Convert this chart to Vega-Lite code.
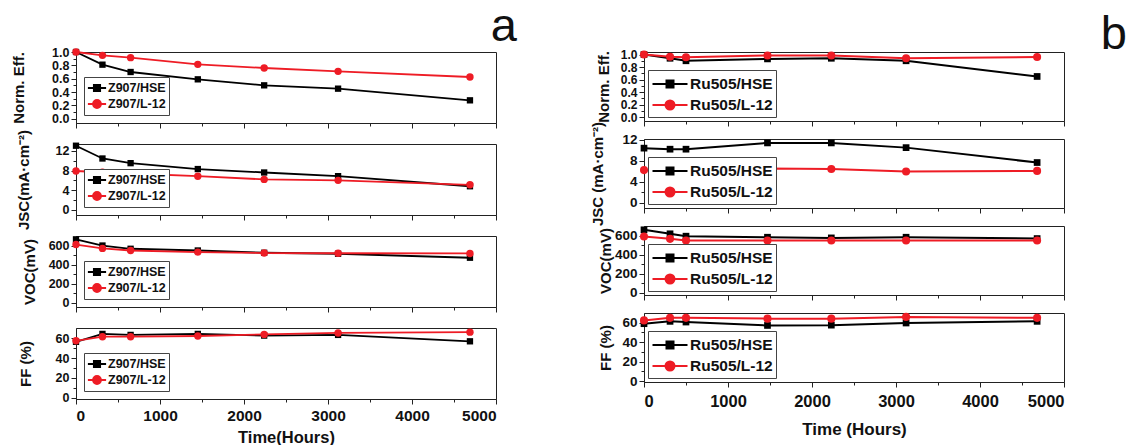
{
  "$schema": "https://vega.github.io/schema/vega-lite/v6.json",
  "background": "white",
  "padding": {"left": 10, "top": 2, "right": 0, "bottom": 0},
  "config": {
    "font": "Liberation Sans",
    "view": {"stroke": "#222", "strokeWidth": 1},
    "axis": {"grid": false, "labelFontWeight": "bold", "titleFontWeight": "bold", "labelColor": "#111", "titleColor": "#111", "tickColor": "#222", "domainColor": "#222", "labelPadding": 2},
    "axisY": {"labelOverlap": false},
    "legend": {"strokeColor": "#444", "fillColor": "white", "padding": 3, "labelFontWeight": "bold", "labelColor": "#111", "rowPadding": 1, "orient": "bottom-left"}
  },
  "datasets": {
    "a": [
      {"t": 0, "series": "Z907/HSE", "eff": 1.0, "jsc": 13.05, "voc": 665, "ff": 56.5},
      {"t": 315, "series": "Z907/HSE", "eff": 0.81, "jsc": 10.45, "voc": 600, "ff": 64.5},
      {"t": 650, "series": "Z907/HSE", "eff": 0.70, "jsc": 9.5, "voc": 566, "ff": 63.5},
      {"t": 1450, "series": "Z907/HSE", "eff": 0.59, "jsc": 8.3, "voc": 548, "ff": 64.5},
      {"t": 2240, "series": "Z907/HSE", "eff": 0.50, "jsc": 7.6, "voc": 524, "ff": 62.8},
      {"t": 3120, "series": "Z907/HSE", "eff": 0.45, "jsc": 6.85, "voc": 514, "ff": 63.5},
      {"t": 4690, "series": "Z907/HSE", "eff": 0.275, "jsc": 4.8, "voc": 472, "ff": 57},
      {"t": 0, "series": "Z907/L-12", "eff": 1.0, "jsc": 7.9, "voc": 610, "ff": 57.5},
      {"t": 315, "series": "Z907/L-12", "eff": 0.95, "jsc": 7.65, "voc": 570, "ff": 61.7},
      {"t": 650, "series": "Z907/L-12", "eff": 0.915, "jsc": 7.4, "voc": 548, "ff": 61.7},
      {"t": 1450, "series": "Z907/L-12", "eff": 0.815, "jsc": 6.85, "voc": 531, "ff": 62.4},
      {"t": 2240, "series": "Z907/L-12", "eff": 0.76, "jsc": 6.2, "voc": 521, "ff": 64.0},
      {"t": 3120, "series": "Z907/L-12", "eff": 0.71, "jsc": 6.0, "voc": 519, "ff": 65.5},
      {"t": 4690, "series": "Z907/L-12", "eff": 0.625, "jsc": 5.1, "voc": 517, "ff": 66.3}
    ],
    "b": [
      {"t": 0, "series": "Ru505/HSE", "eff": 1.0, "jsc": 10.4, "voc": 660, "ff": 59},
      {"t": 310, "series": "Ru505/HSE", "eff": 0.94, "jsc": 10.2, "voc": 618, "ff": 61.4},
      {"t": 500, "series": "Ru505/HSE", "eff": 0.90, "jsc": 10.2, "voc": 593, "ff": 60.7},
      {"t": 1470, "series": "Ru505/HSE", "eff": 0.93, "jsc": 11.4, "voc": 582, "ff": 57.2},
      {"t": 2230, "series": "Ru505/HSE", "eff": 0.94, "jsc": 11.4, "voc": 575, "ff": 57.5},
      {"t": 3120, "series": "Ru505/HSE", "eff": 0.90, "jsc": 10.5, "voc": 582, "ff": 59.7},
      {"t": 4680, "series": "Ru505/HSE", "eff": 0.65, "jsc": 7.65, "voc": 568, "ff": 61.4},
      {"t": 0, "series": "Ru505/L-12", "eff": 1.0, "jsc": 6.2, "voc": 590, "ff": 62.4},
      {"t": 310, "series": "Ru505/L-12", "eff": 0.965, "jsc": 6.0, "voc": 565, "ff": 65},
      {"t": 500, "series": "Ru505/L-12", "eff": 0.955, "jsc": 6.05, "voc": 547, "ff": 65},
      {"t": 1470, "series": "Ru505/L-12", "eff": 0.985, "jsc": 6.5, "voc": 547, "ff": 64.2},
      {"t": 2230, "series": "Ru505/L-12", "eff": 0.985, "jsc": 6.4, "voc": 547, "ff": 64.2},
      {"t": 3120, "series": "Ru505/L-12", "eff": 0.94, "jsc": 5.95, "voc": 547, "ff": 66},
      {"t": 4680, "series": "Ru505/L-12", "eff": 0.96, "jsc": 6.05, "voc": 547, "ff": 65}
    ]
  },
  "resolve": {"scale": {"color": "independent"}, "legend": {"color": "independent"}},
  "spacing": 72,
  "hconcat": [
    {
      "data": {"name": "a"},
      "title": {"text": "a", "anchor": "end", "fontSize": 47, "fontWeight": "normal", "color": "#111", "offset": -5, "dx": 20},
      "bounds": "flush",
      "spacing": 21,
      "resolve": {"scale": {"color": "independent"}, "legend": {"color": "independent"}},
      "vconcat": [
        {
          "width": 420, "height": 71,
          "encoding": {
            "x": {"field": "t", "type": "quantitative", "scale": {"domain": [0, 5000], "nice": false}, "axis": {"values": [0,500,1000,1500,2000,2500,3000,3500,4000,4500,5000], "labels": false, "title": null, "tickSize": {"condition": {"test": "datum.value % 1000 === 0", "value": 5}, "value": 3}}},
            "y": {"field": "eff", "type": "quantitative", "scale": {"domain": [-0.065, 1.0], "nice": false, "zero": false}, "axis": {"values": [0,0.1,0.2,0.3,0.4,0.5,0.6,0.7,0.8,0.9,1.0], "labelExpr": "round(datum.value*10) % 2 === 0 ? format(datum.value, '.1f') : ''", "tickSize": {"condition": {"test": "round(datum.value*10) % 2 === 0", "value": 5}, "value": 3}, "labelFontSize": 12.5, "title": "Norm. Eff.", "titleFontSize": 15, "titleX": -50}},
            "color": {"field": "series", "type": "nominal", "scale": {"domain": ["Z907/HSE", "Z907/L-12"], "range": ["#000000", "#ee1c25"]}, "legend": {"title": null, "offset": 8, "labelFontSize": 12.5, "symbolSize": 196, "symbolOffset": 2, "labelOffset": 3, "encode": {"symbols": {"update": {"shape": {"signal": "indexof(datum.value, 'HSE') >= 0 ? 'M-1.3,0H1.3M-0.45,-0.45H0.45V0.45H-0.45Z' : 'M-1.3,0H1.3M0.57,0A0.57,0.57,0,1,1,-0.57,0A0.57,0.57,0,1,1,0.57,0Z'"}, "fill": {"signal": "indexof(datum.value, 'HSE') >= 0 ? '#000000' : '#ee1c25'"}, "stroke": {"signal": "indexof(datum.value, 'HSE') >= 0 ? '#000000' : '#ee1c25'"}, "strokeWidth": {"value": 1.8}, "opacity": {"value": 1}}}}}}
          },
          "layer": [
            {"mark": {"type": "line", "strokeWidth": 1.8}},
            {"transform": [{"filter": {"field": "series", "equal": "Z907/HSE"}}], "mark": {"type": "point", "shape": "square", "filled": true, "size": 40, "opacity": 1}},
            {"transform": [{"filter": {"field": "series", "equal": "Z907/L-12"}}], "mark": {"type": "point", "shape": "circle", "filled": true, "size": 55, "opacity": 1}}
          ]
        },
        {
          "width": 420, "height": 71,
          "encoding": {
            "x": {"field": "t", "type": "quantitative", "scale": {"domain": [0, 5000], "nice": false}, "axis": {"values": [0,500,1000,1500,2000,2500,3000,3500,4000,4500,5000], "labels": false, "title": null, "tickSize": {"condition": {"test": "datum.value % 1000 === 0", "value": 5}, "value": 3}}},
            "y": {"field": "jsc", "type": "quantitative", "scale": {"domain": [-1.05, 13.4], "nice": false, "zero": false}, "axis": {"values": [0,2,4,6,8,10,12], "labelExpr": "datum.value % 4 === 0 ? datum.label : ''", "tickSize": {"condition": {"test": "datum.value % 4 === 0", "value": 5}, "value": 3}, "labelFontSize": 12.5, "title": "JSC(mA·cm⁻²)", "titleFontSize": 15, "titleX": -45}},
            "color": {"field": "series", "type": "nominal", "scale": {"domain": ["Z907/HSE", "Z907/L-12"], "range": ["#000000", "#ee1c25"]}, "legend": {"title": null, "offset": 8, "labelFontSize": 12.5, "symbolSize": 196, "symbolOffset": 2, "labelOffset": 3, "encode": {"symbols": {"update": {"shape": {"signal": "indexof(datum.value, 'HSE') >= 0 ? 'M-1.3,0H1.3M-0.45,-0.45H0.45V0.45H-0.45Z' : 'M-1.3,0H1.3M0.57,0A0.57,0.57,0,1,1,-0.57,0A0.57,0.57,0,1,1,0.57,0Z'"}, "fill": {"signal": "indexof(datum.value, 'HSE') >= 0 ? '#000000' : '#ee1c25'"}, "stroke": {"signal": "indexof(datum.value, 'HSE') >= 0 ? '#000000' : '#ee1c25'"}, "strokeWidth": {"value": 1.8}, "opacity": {"value": 1}}}}}}
          },
          "layer": [
            {"mark": {"type": "line", "strokeWidth": 1.8}},
            {"transform": [{"filter": {"field": "series", "equal": "Z907/HSE"}}], "mark": {"type": "point", "shape": "square", "filled": true, "size": 40, "opacity": 1}},
            {"transform": [{"filter": {"field": "series", "equal": "Z907/L-12"}}], "mark": {"type": "point", "shape": "circle", "filled": true, "size": 55, "opacity": 1}}
          ]
        },
        {
          "width": 420, "height": 71,
          "encoding": {
            "x": {"field": "t", "type": "quantitative", "scale": {"domain": [0, 5000], "nice": false}, "axis": {"values": [0,500,1000,1500,2000,2500,3000,3500,4000,4500,5000], "labels": false, "title": null, "tickSize": {"condition": {"test": "datum.value % 1000 === 0", "value": 5}, "value": 3}}},
            "y": {"field": "voc", "type": "quantitative", "scale": {"domain": [-45, 700], "nice": false, "zero": false}, "axis": {"values": [0,100,200,300,400,500,600], "labelExpr": "datum.value % 200 === 0 ? datum.label : ''", "tickSize": {"condition": {"test": "datum.value % 200 === 0", "value": 5}, "value": 3}, "labelFontSize": 12.5, "title": "VOC(mV)", "titleFontSize": 15, "titleX": -39}},
            "color": {"field": "series", "type": "nominal", "scale": {"domain": ["Z907/HSE", "Z907/L-12"], "range": ["#000000", "#ee1c25"]}, "legend": {"title": null, "offset": 8, "labelFontSize": 12.5, "symbolSize": 196, "symbolOffset": 2, "labelOffset": 3, "encode": {"symbols": {"update": {"shape": {"signal": "indexof(datum.value, 'HSE') >= 0 ? 'M-1.3,0H1.3M-0.45,-0.45H0.45V0.45H-0.45Z' : 'M-1.3,0H1.3M0.57,0A0.57,0.57,0,1,1,-0.57,0A0.57,0.57,0,1,1,0.57,0Z'"}, "fill": {"signal": "indexof(datum.value, 'HSE') >= 0 ? '#000000' : '#ee1c25'"}, "stroke": {"signal": "indexof(datum.value, 'HSE') >= 0 ? '#000000' : '#ee1c25'"}, "strokeWidth": {"value": 1.8}, "opacity": {"value": 1}}}}}}
          },
          "layer": [
            {"mark": {"type": "line", "strokeWidth": 1.8}},
            {"transform": [{"filter": {"field": "series", "equal": "Z907/HSE"}}], "mark": {"type": "point", "shape": "square", "filled": true, "size": 40, "opacity": 1}},
            {"transform": [{"filter": {"field": "series", "equal": "Z907/L-12"}}], "mark": {"type": "point", "shape": "circle", "filled": true, "size": 55, "opacity": 1}}
          ]
        },
        {
          "width": 420, "height": 71,
          "encoding": {
            "x": {"field": "t", "type": "quantitative", "scale": {"domain": [0, 5000], "nice": false}, "axis": {"values": [0,500,1000,1500,2000,2500,3000,3500,4000,4500,5000], "labelExpr": "datum.value % 1000 === 0 ? datum.label : ''", "labelFontSize": 15.5, "labelPadding": 4, "title": "Time(Hours)", "titleFontSize": 16.5, "titlePadding": 6, "format": "d", "tickSize": {"condition": {"test": "datum.value % 1000 === 0", "value": 5}, "value": 3}}},
            "y": {"field": "ff", "type": "quantitative", "scale": {"domain": [-1.5, 70.5], "nice": false, "zero": false}, "axis": {"values": [0,10,20,30,40,50,60], "labelExpr": "datum.value % 20 === 0 ? datum.label : ''", "tickSize": {"condition": {"test": "datum.value % 20 === 0", "value": 5}, "value": 3}, "labelFontSize": 12.5, "title": "FF (%)", "titleFontSize": 15, "titleX": -43}},
            "color": {"field": "series", "type": "nominal", "scale": {"domain": ["Z907/HSE", "Z907/L-12"], "range": ["#000000", "#ee1c25"]}, "legend": {"title": null, "offset": 8, "labelFontSize": 12.5, "symbolSize": 196, "symbolOffset": 2, "labelOffset": 3, "encode": {"symbols": {"update": {"shape": {"signal": "indexof(datum.value, 'HSE') >= 0 ? 'M-1.3,0H1.3M-0.45,-0.45H0.45V0.45H-0.45Z' : 'M-1.3,0H1.3M0.57,0A0.57,0.57,0,1,1,-0.57,0A0.57,0.57,0,1,1,0.57,0Z'"}, "fill": {"signal": "indexof(datum.value, 'HSE') >= 0 ? '#000000' : '#ee1c25'"}, "stroke": {"signal": "indexof(datum.value, 'HSE') >= 0 ? '#000000' : '#ee1c25'"}, "strokeWidth": {"value": 1.8}, "opacity": {"value": 1}}}}}}
          },
          "layer": [
            {"mark": {"type": "line", "strokeWidth": 1.8}},
            {"transform": [{"filter": {"field": "series", "equal": "Z907/HSE"}}], "mark": {"type": "point", "shape": "square", "filled": true, "size": 40, "opacity": 1}},
            {"transform": [{"filter": {"field": "series", "equal": "Z907/L-12"}}], "mark": {"type": "point", "shape": "circle", "filled": true, "size": 55, "opacity": 1}}
          ]
        }
      ]
    },
    {
      "data": {"name": "b"},
      "title": {"text": "b", "anchor": "end", "fontSize": 47, "fontWeight": "normal", "color": "#111", "offset": -11, "dx": 62},
      "bounds": "flush",
      "spacing": 18,
      "resolve": {"scale": {"color": "independent"}, "legend": {"color": "independent"}},
      "vconcat": [
        {
          "width": 420, "height": 69,
          "encoding": {
            "x": {"field": "t", "type": "quantitative", "scale": {"domain": [0, 5000], "nice": false}, "axis": {"values": [0,500,1000,1500,2000,2500,3000,3500,4000,4500,5000], "labels": false, "title": null, "tickSize": {"condition": {"test": "datum.value % 1000 === 0", "value": 5}, "value": 3}}},
            "y": {"field": "eff", "type": "quantitative", "scale": {"domain": [-0.06, 1.04], "nice": false, "zero": false}, "axis": {"values": [0,0.1,0.2,0.3,0.4,0.5,0.6,0.7,0.8,0.9,1.0], "labelExpr": "round(datum.value*10) % 2 === 0 ? format(datum.value, '.1f') : ''", "tickSize": {"condition": {"test": "round(datum.value*10) % 2 === 0", "value": 5}, "value": 3}, "labelFontSize": 12, "title": "Norm. Eff.", "titleFontSize": 15, "titleX": -33}},
            "color": {"field": "series", "type": "nominal", "scale": {"domain": ["Ru505/HSE", "Ru505/L-12"], "range": ["#000000", "#ee1c25"]}, "legend": {"title": null, "offset": 4, "labelFontSize": 15.5, "symbolSize": 400, "symbolOffset": 8, "labelOffset": 9, "encode": {"symbols": {"update": {"shape": {"signal": "indexof(datum.value, 'HSE') >= 0 ? 'M-1.75,0H1.75M-0.35,-0.35H0.35V0.35H-0.35Z' : 'M-1.75,0H1.75M0.45,0A0.45,0.45,0,1,1,-0.45,0A0.45,0.45,0,1,1,0.45,0Z'"}, "fill": {"signal": "indexof(datum.value, 'HSE') >= 0 ? '#000000' : '#ee1c25'"}, "stroke": {"signal": "indexof(datum.value, 'HSE') >= 0 ? '#000000' : '#ee1c25'"}, "strokeWidth": {"value": 2}, "opacity": {"value": 1}}}}}}
          },
          "layer": [
            {"mark": {"type": "line", "strokeWidth": 2}},
            {"transform": [{"filter": {"field": "series", "equal": "Ru505/HSE"}}], "mark": {"type": "point", "shape": "square", "filled": true, "size": 45, "opacity": 1}},
            {"transform": [{"filter": {"field": "series", "equal": "Ru505/L-12"}}], "mark": {"type": "point", "shape": "circle", "filled": true, "size": 65, "opacity": 1}}
          ]
        },
        {
          "width": 420, "height": 69,
          "encoding": {
            "x": {"field": "t", "type": "quantitative", "scale": {"domain": [0, 5000], "nice": false}, "axis": {"values": [0,500,1000,1500,2000,2500,3000,3500,4000,4500,5000], "labels": false, "title": null, "tickSize": {"condition": {"test": "datum.value % 1000 === 0", "value": 5}, "value": 3}}},
            "y": {"field": "jsc", "type": "quantitative", "scale": {"domain": [-1.05, 12.15], "nice": false, "zero": false}, "axis": {"values": [0,2,4,6,8,10,12], "labelExpr": "datum.value % 4 === 0 ? datum.label : ''", "tickSize": {"condition": {"test": "datum.value % 4 === 0", "value": 5}, "value": 3}, "labelFontSize": 13.5, "title": "JSC (mA·cm⁻²)", "titleFontSize": 15, "titleX": -39}},
            "color": {"field": "series", "type": "nominal", "scale": {"domain": ["Ru505/HSE", "Ru505/L-12"], "range": ["#000000", "#ee1c25"]}, "legend": {"title": null, "offset": 4, "labelFontSize": 15.5, "symbolSize": 400, "symbolOffset": 8, "labelOffset": 9, "encode": {"symbols": {"update": {"shape": {"signal": "indexof(datum.value, 'HSE') >= 0 ? 'M-1.75,0H1.75M-0.35,-0.35H0.35V0.35H-0.35Z' : 'M-1.75,0H1.75M0.45,0A0.45,0.45,0,1,1,-0.45,0A0.45,0.45,0,1,1,0.45,0Z'"}, "fill": {"signal": "indexof(datum.value, 'HSE') >= 0 ? '#000000' : '#ee1c25'"}, "stroke": {"signal": "indexof(datum.value, 'HSE') >= 0 ? '#000000' : '#ee1c25'"}, "strokeWidth": {"value": 2}, "opacity": {"value": 1}}}}}}
          },
          "layer": [
            {"mark": {"type": "line", "strokeWidth": 2}},
            {"transform": [{"filter": {"field": "series", "equal": "Ru505/HSE"}}], "mark": {"type": "point", "shape": "square", "filled": true, "size": 45, "opacity": 1}},
            {"transform": [{"filter": {"field": "series", "equal": "Ru505/L-12"}}], "mark": {"type": "point", "shape": "circle", "filled": true, "size": 65, "opacity": 1}}
          ]
        },
        {
          "width": 420, "height": 69,
          "encoding": {
            "x": {"field": "t", "type": "quantitative", "scale": {"domain": [0, 5000], "nice": false}, "axis": {"values": [0,500,1000,1500,2000,2500,3000,3500,4000,4500,5000], "labels": false, "title": null, "tickSize": {"condition": {"test": "datum.value % 1000 === 0", "value": 5}, "value": 3}}},
            "y": {"field": "voc", "type": "quantitative", "scale": {"domain": [-25, 700], "nice": false, "zero": false}, "axis": {"values": [0,100,200,300,400,500,600], "labelExpr": "datum.value % 200 === 0 ? datum.label : ''", "tickSize": {"condition": {"test": "datum.value % 200 === 0", "value": 5}, "value": 3}, "labelFontSize": 13.5, "title": "VOC(mV)", "titleFontSize": 15, "titleX": -31}},
            "color": {"field": "series", "type": "nominal", "scale": {"domain": ["Ru505/HSE", "Ru505/L-12"], "range": ["#000000", "#ee1c25"]}, "legend": {"title": null, "offset": 4, "labelFontSize": 15.5, "symbolSize": 400, "symbolOffset": 8, "labelOffset": 9, "encode": {"symbols": {"update": {"shape": {"signal": "indexof(datum.value, 'HSE') >= 0 ? 'M-1.75,0H1.75M-0.35,-0.35H0.35V0.35H-0.35Z' : 'M-1.75,0H1.75M0.45,0A0.45,0.45,0,1,1,-0.45,0A0.45,0.45,0,1,1,0.45,0Z'"}, "fill": {"signal": "indexof(datum.value, 'HSE') >= 0 ? '#000000' : '#ee1c25'"}, "stroke": {"signal": "indexof(datum.value, 'HSE') >= 0 ? '#000000' : '#ee1c25'"}, "strokeWidth": {"value": 2}, "opacity": {"value": 1}}}}}}
          },
          "layer": [
            {"mark": {"type": "line", "strokeWidth": 2}},
            {"transform": [{"filter": {"field": "series", "equal": "Ru505/HSE"}}], "mark": {"type": "point", "shape": "square", "filled": true, "size": 45, "opacity": 1}},
            {"transform": [{"filter": {"field": "series", "equal": "Ru505/L-12"}}], "mark": {"type": "point", "shape": "circle", "filled": true, "size": 65, "opacity": 1}}
          ]
        },
        {
          "width": 420, "height": 69,
          "encoding": {
            "x": {"field": "t", "type": "quantitative", "scale": {"domain": [0, 5000], "nice": false}, "axis": {"values": [0,500,1000,1500,2000,2500,3000,3500,4000,4500,5000], "labelExpr": "datum.value % 1000 === 0 ? datum.label : ''", "labelFontSize": 16.5, "labelPadding": 6, "title": "Time (Hours)", "titleFontSize": 17, "titlePadding": 12, "format": "d", "tickSize": {"condition": {"test": "datum.value % 1000 === 0", "value": 5}, "value": 3}}},
            "y": {"field": "ff", "type": "quantitative", "scale": {"domain": [-1, 70], "nice": false, "zero": false}, "axis": {"values": [0,10,20,30,40,50,60], "labelExpr": "datum.value % 20 === 0 ? datum.label : ''", "tickSize": {"condition": {"test": "datum.value % 20 === 0", "value": 5}, "value": 3}, "labelFontSize": 13.5, "title": "FF (%)", "titleFontSize": 15, "titleX": -31}},
            "color": {"field": "series", "type": "nominal", "scale": {"domain": ["Ru505/HSE", "Ru505/L-12"], "range": ["#000000", "#ee1c25"]}, "legend": {"title": null, "offset": 4, "labelFontSize": 15.5, "symbolSize": 400, "symbolOffset": 8, "labelOffset": 9, "encode": {"symbols": {"update": {"shape": {"signal": "indexof(datum.value, 'HSE') >= 0 ? 'M-1.75,0H1.75M-0.35,-0.35H0.35V0.35H-0.35Z' : 'M-1.75,0H1.75M0.45,0A0.45,0.45,0,1,1,-0.45,0A0.45,0.45,0,1,1,0.45,0Z'"}, "fill": {"signal": "indexof(datum.value, 'HSE') >= 0 ? '#000000' : '#ee1c25'"}, "stroke": {"signal": "indexof(datum.value, 'HSE') >= 0 ? '#000000' : '#ee1c25'"}, "strokeWidth": {"value": 2}, "opacity": {"value": 1}}}}}}
          },
          "layer": [
            {"mark": {"type": "line", "strokeWidth": 2}},
            {"transform": [{"filter": {"field": "series", "equal": "Ru505/HSE"}}], "mark": {"type": "point", "shape": "square", "filled": true, "size": 45, "opacity": 1}},
            {"transform": [{"filter": {"field": "series", "equal": "Ru505/L-12"}}], "mark": {"type": "point", "shape": "circle", "filled": true, "size": 65, "opacity": 1}}
          ]
        }
      ]
    }
  ]
}
